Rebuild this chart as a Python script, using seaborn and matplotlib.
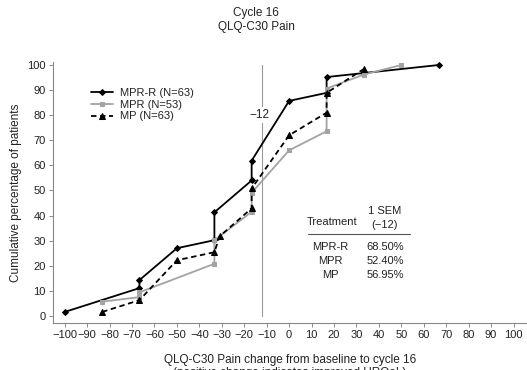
import matplotlib
matplotlib.use("Agg")
import matplotlib.pyplot as plt
import pandas as pd
import seaborn as sns

# Cumulative percentage of patients by QLQ-C30 pain change.
mprr_x = [-100, -66.7, -66.7, -50, -33.3, -33.3, -16.7, -16.7, 0, 16.7, 16.7, 33.3, 66.7]
mprr_y = [1.6, 11.1, 14.3, 27.0, 30.2, 41.3, 54.0, 61.9, 85.7, 88.9, 95.2, 96.8, 100]

mpr_x = [-83.3, -66.7, -66.7, -33.3, -33.3, -16.7, -16.7, 0, 16.7, 16.7, 33.3, 50]
mpr_y = [5.7, 7.5, 9.4, 20.8, 30.2, 41.5, 49.1, 66.0, 73.6, 90.6, 96.2, 100]

mp_x = [-83.3, -66.7, -50, -33.3, -31, -16.7, -16.7, 0, 16.7, 16.7, 33.3]
mp_y = [1.6, 6.3, 22.2, 25.4, 31.7, 42.9, 50.8, 72.0, 81.0, 88.9, 98.4]

series_labels = ["MPR-R (N=63)", "MPR (N=53)", "MP (N=63)"]
sem_treatments = ["MPR-R", "MPR", "MP"]
sem_values = ["68.50%", "52.40%", "56.95%"]
sem_cutoff = -12

x_ticks = list(range(-100, 101, 10))
y_ticks = list(range(0, 101, 10))


def main() -> None:
    sns.set_theme(style="white")
    plt.rcParams["font.family"] = ["Liberation Sans", "DejaVu Sans"]
    text_color = "#222222"

    fig = plt.figure(figsize=(5.27, 3.70), dpi=100)
    ax = fig.add_axes([0.0998, 0.1257, 0.9002, 0.7054])

    styles = [
        (mprr_x, mprr_y, series_labels[0], "black", "D", 3.0, "-"),
        (mpr_x, mpr_y, series_labels[1], "#a3a3a3", "s", 3.0, "-"),
        (mp_x, mp_y, series_labels[2], "black", "^", 3.8, (0, (3, 2))),
    ]
    for xs, ys, label, color, marker, msize, ls in styles:
        df = pd.DataFrame({"x": xs, "y": ys})
        sns.lineplot(
            data=df, x="x", y="y", ax=ax, estimator=None, sort=False,
            color=color, marker=marker, markersize=msize, linestyle=ls,
            linewidth=1.3, markeredgecolor=color, label=label,
        )

    # Reference line at the 1 SEM cut-off.
    ax.axvline(sem_cutoff, ymin=0.03, ymax=0.99, color="#999999", linewidth=0.8, zorder=0)
    ax.text(sem_cutoff - 1, 80, "\u221212", ha="center", va="center",
            fontsize=8.5, color=text_color,
            bbox=dict(facecolor="white", edgecolor="none", pad=1.5))

    # SEM summary table.
    ax.text(19, 37.6, "Treatment", ha="center", va="center", fontsize=8, color=text_color)
    ax.text(42.5, 41.8, "1 SEM", ha="center", va="center", fontsize=8, color=text_color)
    ax.text(42.5, 36.2, "(\u221212)", ha="center", va="center", fontsize=8, color=text_color)
    ax.plot([8.5, 54], [32.7, 32.7], color="#555555", linewidth=0.8)
    for i, (trt, val) in enumerate(zip(sem_treatments, sem_values)):
        yy = 27.5 - i * 5.6
        ax.text(18.5, yy, trt, ha="center", va="center", fontsize=8, color=text_color)
        ax.text(43, yy, val, ha="center", va="center", fontsize=8, color=text_color)

    ax.set_xlim(-105.4, 106)
    ax.set_ylim(-3, 101)
    ax.set_xticks(x_ticks)
    ax.set_yticks(y_ticks)
    ax.tick_params(axis="both", which="major", labelsize=8, length=3, width=0.6,
                   colors="#777777", labelcolor=text_color, pad=2, direction="out",
                   bottom=True, left=True)
    for side in ["top", "right"]:
        ax.spines[side].set_visible(False)
    for side in ["left", "bottom"]:
        ax.spines[side].set_color("#888888")
        ax.spines[side].set_linewidth(0.8)

    ax.set_ylabel("Cumulative percentage of patients", fontsize=8.5, color=text_color, labelpad=4)
    ax.set_xlabel("QLQ-C30 Pain change from baseline to cycle 16\n"
                  "(positive change indicates improved HRQoL)",
                  fontsize=8.5, color=text_color, labelpad=10, linespacing=1.1)

    ax.legend(loc="upper left", bbox_to_anchor=(0.06, 0.94), frameon=False,
              fontsize=8, handlelength=2.0, labelspacing=0.15, handletextpad=0.6,
              labelcolor=text_color)

    fig.text(0.486, 0.964, "Cycle 16", ha="center", va="center", fontsize=8.5, color=text_color)
    fig.text(0.486, 0.927, "QLQ-C30 Pain", ha="center", va="center", fontsize=8.5, color=text_color)

    fig.savefig("out.png", dpi=100)
    plt.close(fig)


if __name__ == "__main__":
    main()
